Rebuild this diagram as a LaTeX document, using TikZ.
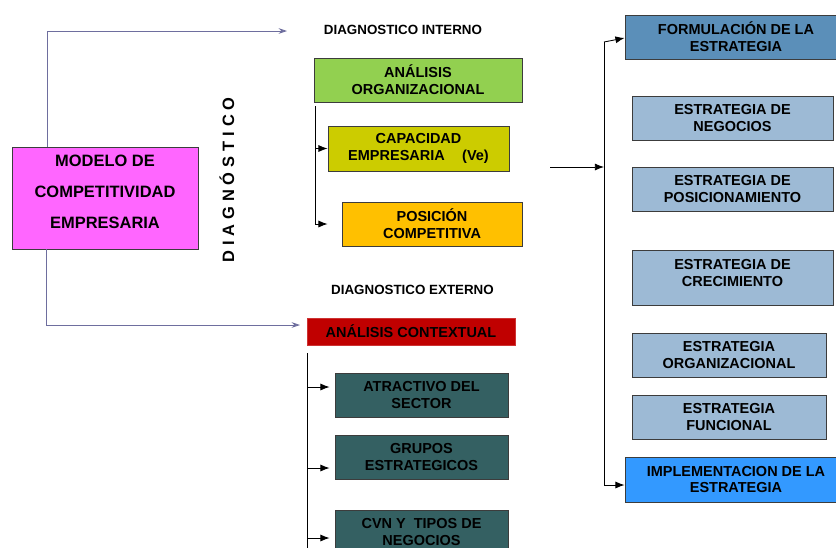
\documentclass[tikz,border=0pt]{standalone}
\usepackage{fontspec}
\setmainfont{Liberation Sans}
\newfontfamily\spacedfont[LetterSpace=30]{Liberation Sans}
\usepackage{tikz}
\usetikzlibrary{arrows,arrows.meta,shapes,calc}
\definecolor{modelcol}{RGB}{255,102,255}
\definecolor{orgcol}{RGB}{146,208,80}
\definecolor{capcol}{RGB}{204,204,0}
\definecolor{poscol}{RGB}{255,192,0}
\definecolor{ctxcol}{RGB}{192,0,0}
\definecolor{extcol}{RGB}{52,96,98}
\definecolor{formcol}{RGB}{91,143,185}
\definecolor{estcol}{RGB}{157,186,213}
\definecolor{implcol}{RGB}{51,153,255}
\definecolor{boxline}{RGB}{60,60,60}
\definecolor{linkcol}{RGB}{110,110,158}
\tikzstyle{box}=[draw=boxline,line width=0.6pt,align=center,inner sep=0pt,font=\bfseries\fontsize{10.3}{12}\selectfont]
\tikzstyle{header}=[align=center,font=\bfseries\fontsize{9.5}{11}\selectfont]
\tikzstyle{edge}=[draw,line width=0.6pt,-{Latex[length=6.5pt,width=5pt]}]
\tikzstyle{link}=[draw=linkcol,line width=0.6pt,-{Stealth[length=6pt,width=4pt]}]

\begin{document}
\begin{tikzpicture}[x=0.025cm,y=-0.025cm]
      \useasboundingbox (0,0) rectangle (836,547);
      \clip (0,0) rectangle (836,547);
      % modelo
      \node[box,fill=modelcol,minimum width=4.65cm,minimum height=2.55cm,
        font=\bfseries\fontsize{11.7}{22}\selectfont] (modelo) at (105,198)
        {MODELO DE\\COMPETITIVIDAD\\EMPRESARIA\\[-13.4pt]};
      \node[rotate=90,font=\bfseries\spacedfont\fontsize{11.7}{14}\selectfont] (diag) at (227,180) {DIAGNÓSTICO};
      % diagnostico interno
      \node[header] (interno) at (403,30) {DIAGNOSTICO INTERNO};
      \node[box,fill=orgcol,minimum width=5.2cm,minimum height=1.1cm] (anorg) at (418,80) {ANÁLISIS\\ORGANIZACIONAL};
      \node[box,fill=capcol,minimum width=4.525cm,minimum height=1.125cm] (capac) at (418.5,148.5) {CAPACIDAD\\EMPRESARIA\hspace{1.2em}(Ve)};
      \node[box,fill=poscol,minimum width=4.5cm,minimum height=1.1cm] (posic) at (432,224) {POSICIÓN\\COMPETITIVA};
      % diagnostico externo
      \node[header] (externo) at (412.5,290) {DIAGNOSTICO EXTERNO};
      \node[box,fill=ctxcol,draw=ctxcol!80!white,minimum width=5.2cm,minimum height=0.675cm] (ancont) at (411,331.5) {ANÁLISIS CONTEXTUAL};
      \node[box,fill=extcol,minimum width=4.325cm,minimum height=1.1cm] (atract) at (421.5,395) {ATRACTIVO DEL\\SECTOR};
      \node[box,fill=extcol,minimum width=4.325cm,minimum height=1.1cm] (grupos) at (421.5,457) {GRUPOS\\ESTRATEGICOS};
      \node[box,fill=extcol,minimum width=4.325cm,minimum height=1.1cm] (cvn) at (421.5,532) {CVN Y\ \ TIPOS DE\\NEGOCIOS};
      % estrategia
      \node[box,fill=formcol,minimum width=5.55cm,minimum height=1.1cm] (formul) at (736,37) {FORMULACIÓN DE LA\\ESTRATEGIA};
      \node[box,fill=estcol,minimum width=5.025cm,minimum height=1.1cm] (negoc) at (732.5,118) {ESTRATEGIA DE\\NEGOCIOS};
      \node[box,fill=estcol,minimum width=5.025cm,minimum height=1.1cm] (posicion) at (732.5,189) {ESTRATEGIA DE\\POSICIONAMIENTO};
      \node[box,fill=estcol,minimum width=5.025cm,minimum height=1.375cm] (crecim) at (732.5,277.5) {ESTRATEGIA DE\\CRECIMIENTO\\[-6pt]};
      \node[box,fill=estcol,minimum width=4.85cm,minimum height=1.1cm] (orgz) at (729,355) {ESTRATEGIA\\ORGANIZACIONAL};
      \node[box,fill=estcol,minimum width=4.85cm,minimum height=1.1cm] (funcional) at (729,417) {ESTRATEGIA\\FUNCIONAL};
      \node[box,fill=implcol,minimum width=5.55cm,minimum height=1.125cm] (implem) at (736,479.5) {IMPLEMENTACION DE LA\\ESTRATEGIA};
      % connectors
      \coordinate (ltop) at (47,31);
      \coordinate (intarrow) at (287,31);
      \coordinate (lbot) at (46,325);
      \coordinate (extarrow) at (300,325);
      \draw[link] (modelo.north -| ltop) -- (ltop) -- (intarrow);
      \draw[link] (modelo.south -| lbot) -- (lbot) -- (extarrow);
      \coordinate (ib) at (315,106);
      \draw[edge] (ib) |- (capac.west);
      \draw[edge] (ib) |- (posic.west -| capac.west);
      \coordinate (eb) at (307,353);
      \coordinate (eend) at (307,550);
      \draw[draw,line width=0.6pt] (eb) -- (eend);
      \draw[edge] (eb) |- ($(atract.west)+(-5,-8)$);
      \draw[edge] (eb) |- ($(grupos.west)+(-5,11)$);
      \draw[edge] (eb) |- ($(cvn.west)+(-5,6)$);
      \coordinate (rin) at (550,167);
      \coordinate (rsplit) at (604,167);
      \coordinate (rtop) at (604,42);
      \draw[edge] (rin) -- (rsplit);
      \draw[edge] (rtop) -- ($(formul.west)+(0,1)$);
      \draw[edge] (rtop) |- ($(implem.west)+(0,5.5)$);
    \end{tikzpicture}
\end{document}
